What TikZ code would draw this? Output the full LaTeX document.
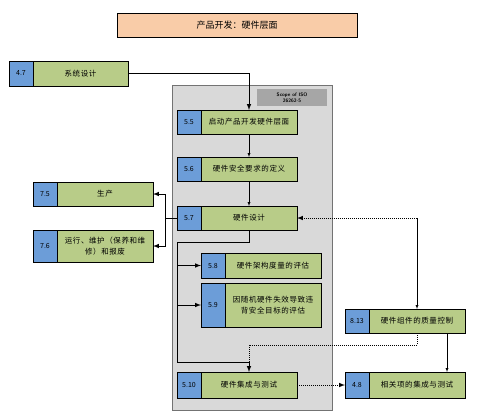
\documentclass[tikz,border=0pt]{standalone}
\usepackage{fontspec}
\newfontfamily\cjk{Noto Sans CJK SC}
\newfontfamily\cjkwide[LetterSpace=8]{Noto Sans CJK SC}
\usetikzlibrary{positioning}
\definecolor{numblue}{RGB}{108,157,216}
\definecolor{taskgreen}{RGB}{184,204,136}
\definecolor{titlepeach}{RGB}{249,204,168}
\definecolor{scopegray}{RGB}{217,217,217}
\definecolor{headgray}{RGB}{166,166,166}
\begin{document}
\begin{tikzpicture}[x=1pt,y=-1pt]
      \tikzstyle{num}=[draw,line width=1pt,fill=numblue,outer sep=0pt,inner sep=0pt,minimum width=24pt,font=\cjk\fontsize{7}{8}\selectfont]
      \tikzstyle{task}=[draw,line width=1pt,fill=taskgreen,outer sep=0pt,inner sep=2pt,minimum width=96pt,text width=90pt,align=center,font=\cjkwide\fontsize{7.5}{11}\selectfont]
      \tikzstyle{edge}=[draw,-latex]
      \tikzstyle{heavy}=[draw,line width=1pt]
      \useasboundingbox (0,0) rectangle (481,416);
      % scope of the part
      \path[draw=black!55,line width=1pt,fill=scopegray] (172,85) rectangle (332,410);
      \path[fill=headgray] (257,89) rectangle (327,106);
      \node[font=\sffamily\bfseries\fontsize{5}{6}\selectfont,align=center] (scope) at (292,97.5) {Scope of ISO\\26262-5};
      \node[draw,line width=1pt,fill=titlepeach,minimum width=240pt,minimum height=24pt,font=\cjk\fontsize{9}{10}\selectfont] (title) at (237,25) {产品开发：硬件层面};
      % boxes
      \node[num,minimum height=25pt] (n47) at (21,73.5) {4.7};
      \node[task,minimum height=25pt,minimum width=95pt,right=0pt of n47] (t47) {系统设计};
      \node[num,minimum height=24pt] (n55) at (189,122) {5.5};
      \node[task,minimum height=24pt,right=0pt of n55] (t55) {启动产品开发硬件层面};
      \node[num,minimum height=24pt] (n56) at (189,169) {5.6};
      \node[task,minimum height=24pt,right=0pt of n56] (t56) {硬件安全要求的定义};
      \node[num,minimum height=24pt] (n57) at (189,218) {5.7};
      \node[task,minimum height=24pt,right=0pt of n57] (t57) {硬件设计};
      \node[num,minimum height=24pt] (n75) at (45,194) {7.5};
      \node[task,minimum height=24pt,right=0pt of n75] (t75) {生产};
      \node[num,minimum height=32pt] (n76) at (45,246) {7.6};
      \node[task,minimum height=32pt,right=0pt of n76] (t76) {运行、维护（保养和维\\修）和报废};
      \node[num,minimum height=25pt] (n58) at (213,265.5) {5.8};
      \node[task,minimum height=25pt,right=0pt of n58] (t58) {硬件架构度量的评估};
      \node[num,minimum height=44pt] (n59) at (213,305) {5.9};
      \node[task,minimum height=44pt,right=0pt of n59] (t59) {因随机硬件失效导致违\\背安全目标的评估};
      \node[num,minimum height=24pt] (n813) at (357,321) {8.13};
      \node[task,minimum height=24pt,right=0pt of n813] (t813) {硬件组件的质量控制};
      \node[num,minimum height=26pt] (n510) at (189,385) {5.10};
      \node[task,minimum height=26pt,right=0pt of n510] (t510) {硬件集成与测试};
      \node[num,minimum height=26pt] (n48) at (357,385) {4.8};
      \node[task,minimum height=26pt,right=0pt of n48] (t48) {相关项的集成与测试};
      % turning points
      \coordinate (fork) at (165,218);
      \coordinate (bend) at (249,242);
      \coordinate (rail) at (177,242);
      \coordinate (railend) at (177,362);
      \coordinate (join) at (249,345);
      \coordinate (tap) at (417,218);
      % connectors
      \path[edge,line width=1pt] (t47.east) -| (t55.north);
      \path[edge] (t55) -- (t56);
      \path[edge] (t56) -- (t57);
      \path[heavy] (n57.west) -- (fork);
      \path[edge,line width=1pt] (fork) |- (t75.east);
      \path[edge,line width=1pt] (fork) |- (t76.east);
      \path[heavy] (t57.south) -- (bend) -- (rail) -- (railend);
      \path[edge,line width=1pt] (rail |- n58.west) -- (n58.west);
      \path[edge,line width=1pt] (rail |- n59.west) -- (n59.west);
      \path[edge,line width=1pt] (railend) -| (t510.north);
      \path[draw,densely dotted,line width=1pt] (t813.south) |- (join) -- (join |- railend);
      \path[edge,densely dotted,line width=1pt] (tap) -- (t57.east);
      \path[edge] (tap) -- (t813.north);
      \path[edge] ([xshift=30pt]t813.south) -- ([xshift=30pt]t48.north);
      \path[edge,densely dotted,line width=1pt] (t510.east) -- (n48.west);
\end{tikzpicture}
\end{document}
